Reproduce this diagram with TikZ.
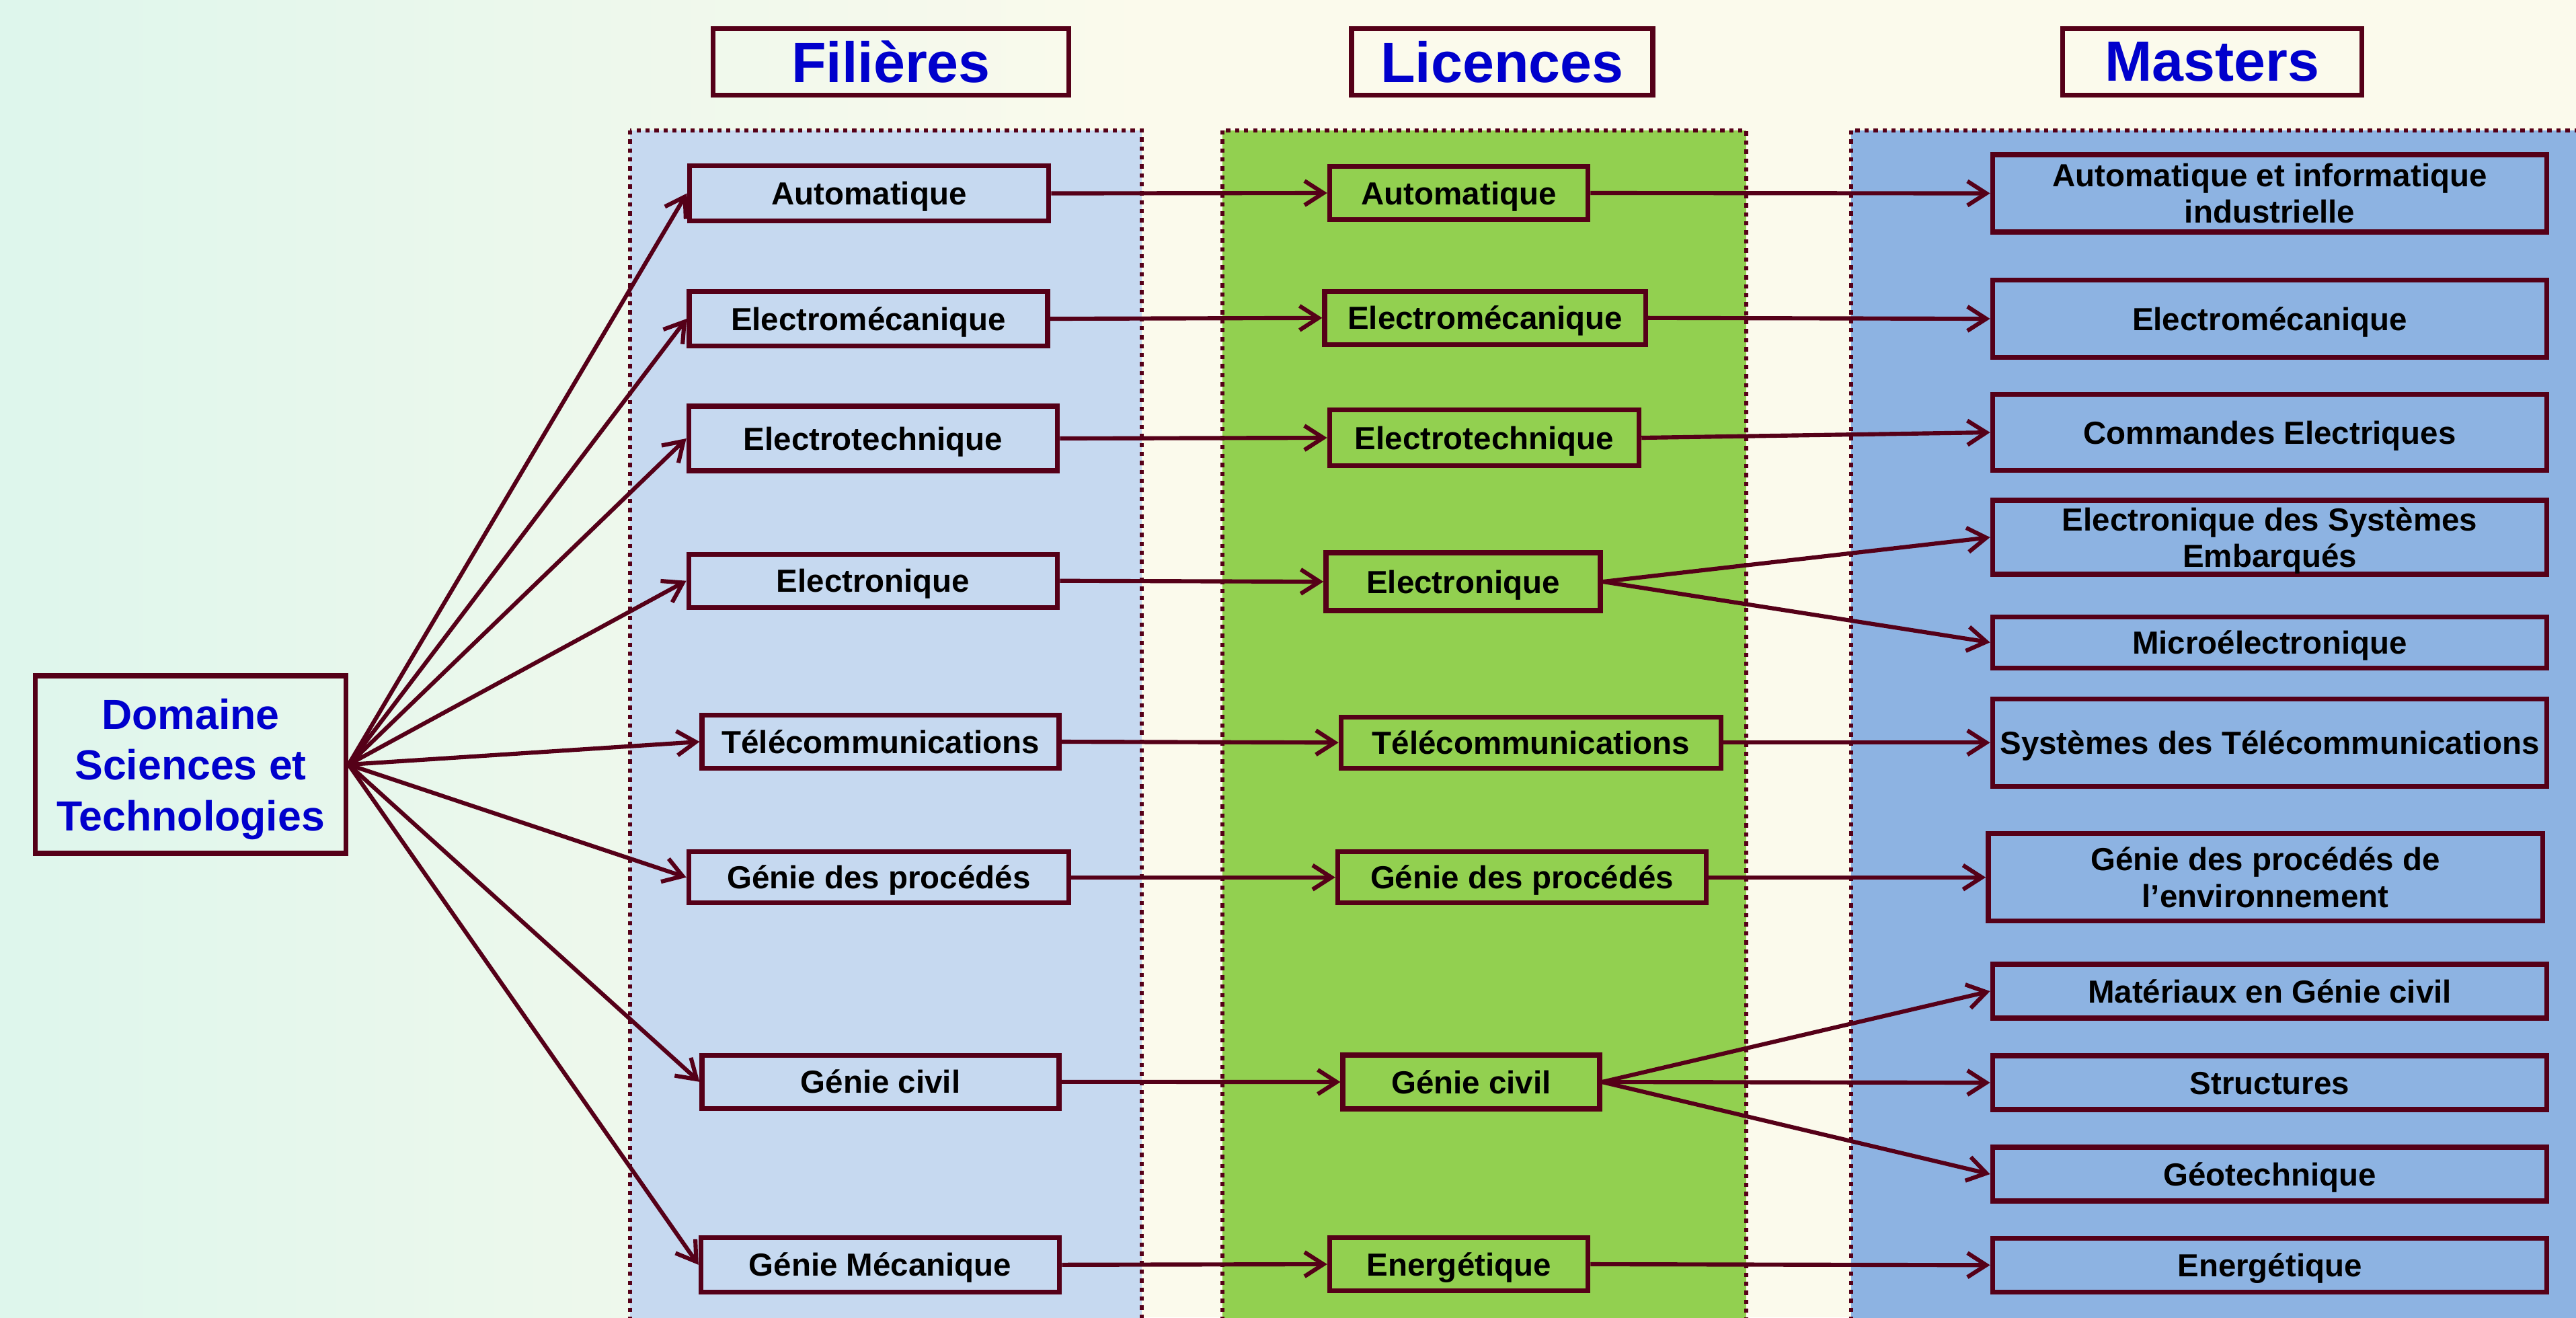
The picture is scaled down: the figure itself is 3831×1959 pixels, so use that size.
\documentclass[tikz,border=0pt]{standalone}
\usepackage{fontspec}
\setmainfont{Liberation Sans}
\usetikzlibrary{arrows.meta}
\definecolor{mar}{RGB}{85,0,24}
\definecolor{fcol}{RGB}{198,217,240}
\definecolor{lcol}{RGB}{146,208,80}
\definecolor{mcol}{RGB}{141,179,226}
\definecolor{ttl}{RGB}{0,0,204}
\definecolor{bgL}{RGB}{222,246,236}
\definecolor{bgR}{RGB}{251,250,236}
\begin{document}
\begin{tikzpicture}[x=0.01cm,y=-0.01cm,
  wh/.style 2 args={minimum width=#1cm-0.07cm, minimum height=#2cm-0.07cm},
  box/.style={draw=mar, line width=2.1pt, inner sep=1pt, align=center, text=black,
    font=\fontsize{13.5}{15.5}\selectfont\bfseries, text height=9.7pt, text depth=0pt},
  twoline/.style={text height=, text depth=0pt},
  fb/.style={box, fill=fcol},
  lb/.style={box, fill=lcol},
  mb/.style={box, fill=mcol},
  ttlbox/.style={draw=mar, line width=2.1pt, text=ttl, inner sep=0pt,
    font=\fontsize{24}{28}\selectfont\bfseries, minimum height=0.99cm},
  panel/.style={draw=mar, line width=1.8pt, dash pattern=on 1.8pt off 2.0pt},
  arr/.style={draw=mar, line width=1.75pt, -{Straight Barb[length=2.8mm,width=3.6mm]}}
]
\useasboundingbox (0,0) rectangle (3831,1959);
\clip (0,0) rectangle (3831,1959);
% background
\fill[bgR] (0,0) rectangle (3831,1959);
\shade[left color=bgL, right color=bgR] (0,0) rectangle (1700,1959);

% panels
\path[panel, fill=fcol] (937,194) rectangle (1698,2020);
\path[panel, fill=lcol] (1818,194) rectangle (2597,2020);
\path[panel, fill=mcol] (2753,194) rectangle (3900,2020);

% titles
\node[ttlbox, minimum width=5.29cm] (tf) at (1325,92) {Filières};
\node[ttlbox, minimum width=4.48cm] (tl) at (2234,92) {Licences};
\node[ttlbox, minimum width=4.45cm] (tm) at (3290,92) {Masters};

% domain
\node[draw=mar, line width=2.1pt, minimum width=4.62cm, minimum height=2.64cm,
  text=ttl, align=center, text depth=0pt, font=\fontsize{17.8}{21.5}\selectfont\bfseries]
  (dom) at (283.5,1137) {Domaine\\Sciences et\\Technologies};

% filieres
\node[fb, wh={5.41}{0.89}] (f1) at (1292.4,287.5) {Automatique};
\node[fb, wh={5.40}{0.88}] (f2) at (1291.5,474) {Electromécanique};
\node[fb, wh={5.55}{1.03}] (f3) at (1298.5,652) {Electrotechnique};
\node[fb, wh={5.55}{0.86}] (f4) at (1298.5,863.7) {Electronique};
\node[fb, wh={5.375}{0.86}] (f5) at (1309.5,1103) {Télécommunications};
\node[fb, wh={5.72}{0.83}] (f6) at (1307,1304.7) {Génie des procédés};
\node[fb, wh={5.375}{0.86}] (f7) at (1309.5,1608.8) {Génie civil};
\node[fb, wh={5.40}{0.88}] (f8) at (1309,1880.8) {Génie Mécanique};

% licences
\node[lb, wh={3.91}{0.86}] (l1) at (2169.6,287) {Automatique};
\node[lb, wh={4.84}{0.86}] (l2) at (2208.7,472.8) {Electromécanique};
\node[lb, wh={4.67}{0.90}] (l3) at (2207.4,651) {Electrotechnique};
\node[lb, wh={4.15}{0.93}] (l4) at (2176,865) {Electronique};
\node[lb, wh={5.72}{0.83}] (l5) at (2277,1104.3) {Télécommunications};
\node[lb, wh={5.55}{0.83}] (l6) at (2263.6,1304.7) {Génie des procédés};
\node[lb, wh={3.885}{0.87}] (l7) at (2188,1609) {Génie civil};
\node[lb, wh={3.91}{0.86}] (l8) at (2169.6,1880) {Energétique};

% masters
\node[mb, twoline, wh={8.31}{1.22}] (m1) at (3375.5,287.5) {Automatique et informatique\\industrielle};
\node[mb, wh={8.31}{1.22}] (m2) at (3375.5,474) {Electromécanique};
\node[mb, wh={8.31}{1.20}] (m3) at (3375.5,643) {Commandes Electriques};
\node[mb, twoline, wh={8.31}{1.17}] (m4) at (3375.5,799) {Electronique des Systèmes\\Embarqués};
\node[mb, wh={8.31}{0.83}] (m5) at (3375.5,955.3) {Microélectronique};
\node[mb, wh={8.31}{1.37}] (m6) at (3375.5,1104.3) {Systèmes des Télécommunications};
\node[mb, twoline, wh={8.31}{1.37}] (m7) at (3369,1304.7) {Génie des procédés de\\l’environnement};
\node[mb, wh={8.31}{0.87}] (m8) at (3375.5,1474) {Matériaux en Génie civil};
\node[mb, wh={8.31}{0.87}] (m9) at (3375.5,1610) {Structures};
\node[mb, wh={8.31}{0.87}] (m10) at (3375.5,1746) {Géotechnique};
\node[mb, wh={8.31}{0.87}] (m11) at (3375.5,1881.3) {Energétique};

% arrows domain -> filieres
\foreach \i in {1,...,8} {\draw[arr] (dom.east) -- (f\i.west);}
% filieres -> licences
\foreach \i in {1,...,8} {\draw[arr] (f\i.east) -- (l\i.west);}
% licences -> masters
\draw[arr] (l1.east) -- (m1.west);
\draw[arr] (l2.east) -- (m2.west);
\draw[arr] (l3.east) -- (m3.west);
\draw[arr] (l4.east) -- (m4.west);
\draw[arr] (l4.east) -- (m5.west);
\draw[arr] (l5.east) -- (m6.west);
\draw[arr] (l6.east) -- (m7.west);
\draw[arr] (l7.east) -- (m8.west);
\draw[arr] (l7.east) -- (m9.west);
\draw[arr] (l7.east) -- (m10.west);
\draw[arr] (l8.east) -- (m11.west);
\end{tikzpicture}
\end{document}
